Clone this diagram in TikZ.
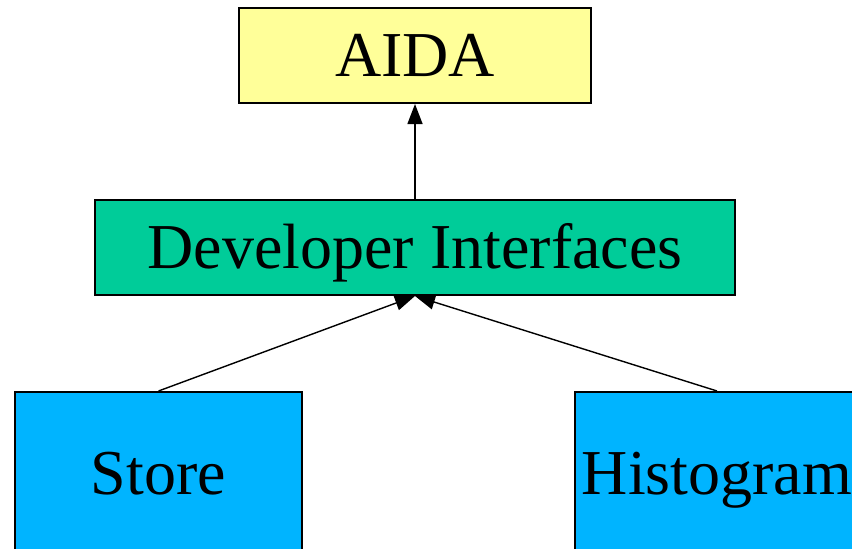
\documentclass[tikz,border=0pt]{standalone}
\usepackage{fontspec}
\setmainfont{Liberation Serif}
\usetikzlibrary{arrows.meta}
\definecolor{aidayellow}{HTML}{FFFF99}
\definecolor{devgreen}{HTML}{00CC99}
\definecolor{implblue}{HTML}{00B4FF}
\begin{document}
\begin{tikzpicture}[x=1pt,y=1pt,
  box/.style={draw=black,line width=2pt,rectangle,inner sep=0pt,
    font=\fontsize{64}{72}\selectfont,text height=42.5pt,text depth=0pt},
  link/.style={line width=1.4pt,-{Triangle[length=20pt,width=15pt]}}]
\useasboundingbox (0,0) rectangle (852,-549);
\clip (0,0) rectangle (852,-549);
\node[box,fill=aidayellow,minimum width=352pt,minimum height=95pt] (aida) at (415,-55.5) {AIDA};
\node[box,fill=devgreen,minimum width=640pt,minimum height=95pt] (dev) at (415,-247.5) {Developer Interfaces};
\node[box,fill=implblue,minimum width=287pt,minimum height=163pt] (store) at (158.5,-473.5) {Store};
\node[box,fill=implblue,minimum width=284pt,minimum height=163pt] (hist) at (717,-473.5) {Histogram};
\draw[link] (dev.north) -- (aida.south);
\draw[link] (store.north) -- (dev.south);
\draw[link] (hist.north) -- (dev.south);
\end{tikzpicture}
\end{document}
